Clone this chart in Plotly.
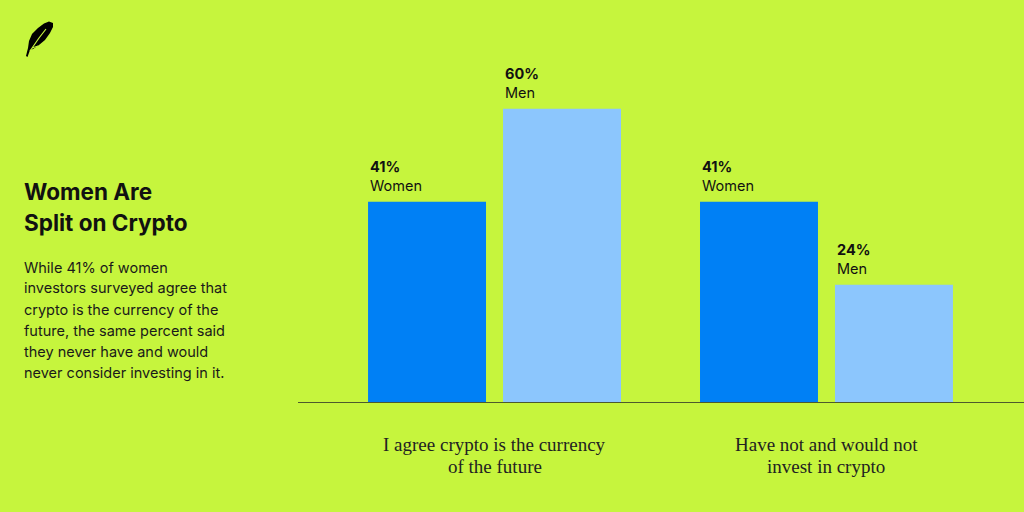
import plotly.graph_objects as go

# ---- data ----
categories = ["I agree crypto is the currency<br>of the future",
              "Have not and would not<br>invest in crypto"]
women = [41, 41]
men = [60, 24]
series_names = ["Women", "Men"]
title_lines = ["Women Are", "Split on Crypto"]
body_lines = ["While 41% of women",
              "investors surveyed agree that",
              "crypto is the currency of the",
              "future, the same percent said",
              "they never have and would",
              "never consider investing in it."]

BG = "#c6f53d"
W_COLOR = "#0080f5"
M_COLOR = "#8cc6fd"
FONT = "Inter"

W, H = 1024, 512
L, R, T, B = 298, 0, 60, 110
pw, ph = W - L - R, H - T - B

def px(x):
    return (x - L) / pw

def py(y):
    return (H - B - y) / ph

xs = list(range(len(categories)))
off_w, off_m, bw = -0.381, 0.0256, 0.3554

fig = go.Figure()
fig.add_trace(go.Bar(x=xs, y=women, name=series_names[0], marker_color=W_COLOR,
                     marker_line_width=0, offset=off_w, width=bw, hoverinfo="skip"))
fig.add_trace(go.Bar(x=xs, y=men, name=series_names[1], marker_color=M_COLOR,
                     marker_line_width=0, offset=off_m, width=bw, hoverinfo="skip"))

ann = []
for i in xs:
    for vals, off, nm in ((women, off_w, series_names[0]), (men, off_m, series_names[1])):
        ann.append(dict(x=i + off, y=vals[i], xref="x", yref="y", xanchor="left",
                        yanchor="bottom", yshift=6, align="left", showarrow=False,
                        text=f"<b>{vals[i]}%</b><br>{nm}",
                        font=dict(family=FONT, size=14.5, color="#111111")))
    for k, line in enumerate(categories[i].split("<br>")):
        ann.append(dict(x=i, y=py(444 + 22 * k), xref="x", yref="paper", xanchor="center",
                        yanchor="middle", showarrow=False, align="center",
                        text=line,
                        font=dict(family="Liberation Serif", size=19, color="#222222")))

for k, t in enumerate(title_lines):
    ann.append(dict(x=px(22), y=py(191 + 31 * k), xref="paper", yref="paper",
                    xanchor="left", yanchor="middle", showarrow=False,
                    text=f"<b>{t}</b>",
                    font=dict(family=FONT, size=22.5, color="#111111")))
for k, t in enumerate(body_lines):
    ann.append(dict(x=px(22), y=py(267 + 21.2 * k), xref="paper", yref="paper",
                    xanchor="left", yanchor="middle", showarrow=False,
                    text=t, font=dict(family=FONT, size=14.5, color="#1a1a1a")))

# feather logo (decorative)
def path(pts, close=True):
    s = "M " + " L ".join(f"{px(x):.5f},{py(y):.5f}" for x, y in pts)
    return s + (" Z" if close else "")

leaf = [(26, 56), (28, 48), (29, 41), (32, 34), (38, 28), (44, 23.5), (49, 21.5),
        (53, 23), (53, 27), (50, 33), (45, 40), (39, 45), (33, 49), (30, 50), (27.5, 57)]
shapes = [
    dict(type="path", xref="paper", yref="paper", path=path(leaf),
         fillcolor="#000000", line=dict(width=0)),
    dict(type="path", xref="paper", yref="paper",
         path=path([(30, 51), (39, 38), (46, 29)], close=False),
         line=dict(color=BG, width=1.2)),
    dict(type="path", xref="paper", yref="paper",
         path=path([(32, 48), (38, 46)], close=False),
         line=dict(color=BG, width=1)),
]

fig.update_layout(
    width=W, height=H, paper_bgcolor=BG, plot_bgcolor=BG,
    margin=dict(l=L, r=R, t=T, b=B), showlegend=False,
    barmode="overlay",
    xaxis=dict(range=[-0.592, 1.595], showticklabels=False, showgrid=False,
               zeroline=False, showline=True, linecolor="#4d5a2e", linewidth=1,
               fixedrange=True),
    yaxis=dict(range=[0, 70], visible=False, fixedrange=True),
    annotations=ann, shapes=shapes,
)

fig.write_html("out.html", config={"displayModeBar": False},
               post_script="document.body.style.margin='0';document.body.style.overflow='hidden';")
